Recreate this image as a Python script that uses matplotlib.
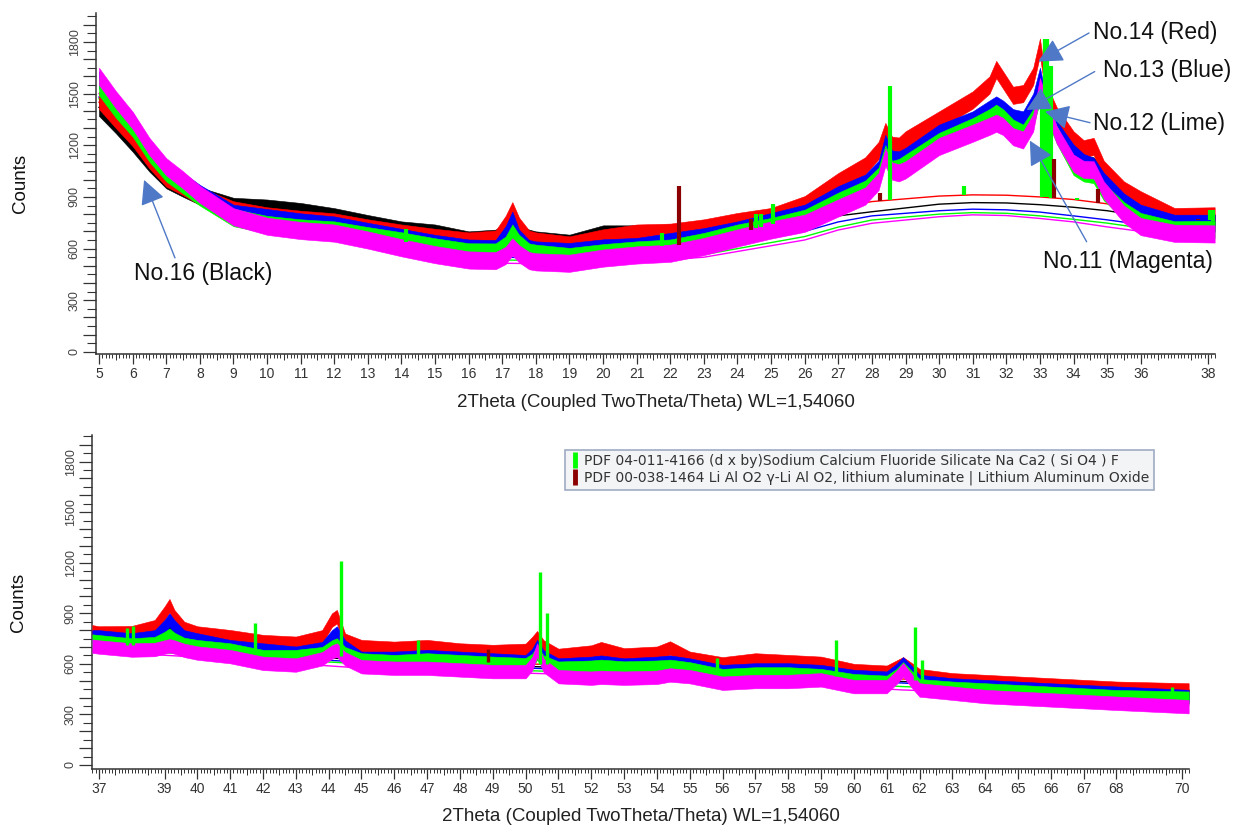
import numpy as np
import matplotlib
matplotlib.use('Agg')
import matplotlib.pyplot as plt
from matplotlib.ticker import MultipleLocator, FuncFormatter
from matplotlib.lines import Line2D

plt.rcParams['font.family'] = ['Liberation Sans', 'DejaVu Sans']

# scan order: drawn first -> last
samples = ['No.16 (Black)', 'No.14 (Red)', 'No.13 (Blue)', 'No.12 (Lime)', 'No.11 (Magenta)']
sample_colors = ['#000000', '#ff0000', '#0000ff', '#00ff00', '#ff00ff']

# ---- 2theta 5..38 ----
top_x = [5, 5.5, 6, 6.5, 7, 7.5, 8, 9, 10, 11, 12, 13, 14, 15, 16, 16.8, 17.1, 17.3, 17.5,
         17.8, 18, 19, 20, 21, 22, 23, 24, 25, 26, 27, 27.8, 28.2, 28.4, 28.6, 28.8, 29, 30,
         31, 31.5, 31.7, 31.9, 32.2, 32.5, 32.8, 33.0, 33.2, 33.5, 34, 34.3, 34.6, 34.9, 35.5,
         36, 37, 38.2]
top_black = [1420, 1320, 1213, 1097, 1000, 951, 905, 845, 835, 815, 785, 745, 708, 690, 650,
             660, 700, 735, 690, 660, 650, 631, 685, 685, 690, 715, 737, 757, 795, 894, 960,
             1040, 1170, 1080, 1090, 1115, 1241, 1318, 1380, 1405, 1380, 1330, 1290, 1380,
             1521, 1420, 1300, 1135, 1090, 1080, 1010, 880, 825, 757, 750]
top_red = [1460, 1350, 1245, 1115, 1010, 960, 905, 825, 790, 770, 755, 720, 690, 665, 644,
           655, 740, 820, 730, 655, 644, 621, 662, 690, 695, 720, 757, 786, 855, 989, 1080,
           1170, 1280, 1200, 1195, 1231, 1347, 1463, 1550, 1640, 1580, 1490, 1500, 1600, 1770,
           1500, 1370, 1231, 1180, 1193, 1060, 940, 883, 786, 790]
top_blue = [1580, 1450, 1340, 1180, 1065, 990, 920, 805, 780, 755, 737, 700, 665, 630, 603,
            600, 680, 765, 660, 600, 592, 583, 604, 612, 641, 669, 708, 757, 805, 913, 980,
            1060, 1210, 1120, 1115, 1135, 1270, 1347, 1410, 1434, 1410, 1360, 1347, 1450, 1600,
            1420, 1290, 1154, 1100, 1077, 990, 870, 805, 747, 747]
top_lime = [1540, 1410, 1300, 1154, 1040, 970, 900, 780, 740, 720, 708, 675, 645, 610, 581,
            580, 620, 690, 630, 580, 573, 554, 576, 592, 603, 641, 690, 728, 776, 875, 945,
            1020, 1150, 1060, 1070, 1096, 1222, 1308, 1360, 1386, 1360, 1300, 1270, 1360, 1502,
            1400, 1260, 1077, 1040, 1030, 930, 820, 757, 709, 712]
top_magenta = [1600, 1465, 1345, 1193, 1075, 999, 915, 785, 730, 705, 690, 650, 605, 565, 534,
               530, 560, 610, 570, 530, 523, 515, 545, 563, 573, 612, 662, 708, 747, 836, 905,
               990, 1130, 1050, 1040, 1057, 1193, 1270, 1310, 1328, 1310, 1250, 1231, 1330, 1541,
               1420, 1260, 1096, 1060, 1057, 940, 800, 728, 689, 685]

# fitted backgrounds
top_bg_x = [5, 8, 11, 14, 17, 20, 23, 26, 27, 28, 30, 31, 32, 33, 34, 35, 36, 38.2]
top_bg_black = [1420, 890, 720, 630, 565, 560, 615, 740, 790, 814, 858, 867, 865, 855, 840, 820, 790, 740]
top_bg_red = [1450, 900, 730, 640, 580, 575, 640, 790, 840, 873, 905, 912, 910, 900, 885, 860, 820, 760]
top_bg_blue = [1480, 880, 710, 610, 550, 540, 585, 700, 755, 790, 820, 829, 825, 812, 790, 767, 740, 700]
top_bg_lime = [1470, 875, 700, 600, 534, 525, 565, 670, 725, 766, 800, 809, 805, 790, 770, 748, 720, 690]
top_bg_magenta = [1500, 870, 690, 590, 515, 508, 550, 650, 708, 747, 785, 796, 792, 775, 755, 726, 700, 670]

# ---- 2theta 37..70 ----
bot_x = [36.8, 37, 38, 38.7, 39.0, 39.15, 39.3, 39.6, 40, 41, 42, 43, 43.8, 44.1, 44.25, 44.5,
         45, 46, 47, 48, 49, 50, 50.2, 50.35, 50.55, 51, 52, 52.3, 53, 54, 54.4, 55, 56, 57, 58,
         59, 60, 61, 61.3, 61.5, 61.8, 62, 63, 64, 65, 66, 67, 68, 70.2]
bot_black = [755, 754, 735, 745, 790, 827, 790, 745, 732, 712, 682, 673, 690, 730, 742, 690,
             643, 633, 633, 625, 615, 605, 630, 670, 625, 593, 600, 605, 590, 600, 605, 590,
             550, 560, 560, 550, 520, 512, 550, 585, 535, 490, 470, 460, 450, 440, 432, 422, 410]
bot_red = [790, 783, 785, 820, 900, 945, 880, 810, 783, 761, 732, 722, 760, 860, 880, 740,
           702, 692, 702, 682, 673, 680, 720, 755, 700, 650, 670, 690, 653, 663, 694, 633,
           600, 623, 613, 603, 560, 550, 580, 600, 560, 530, 505, 495, 485, 475, 465, 455, 445]
bot_blue = [760, 760, 742, 760, 820, 860, 820, 760, 742, 702, 682, 663, 690, 760, 783, 700,
            633, 633, 643, 633, 623, 613, 650, 702, 640, 593, 603, 610, 593, 603, 610, 593,
            554, 564, 564, 554, 525, 515, 560, 600, 540, 495, 475, 465, 455, 445, 435, 426, 406]
bot_lime = [735, 731, 712, 720, 750, 770, 745, 715, 702, 682, 643, 643, 660, 700, 712, 660,
            623, 613, 623, 613, 603, 595, 620, 663, 610, 574, 580, 585, 575, 580, 585, 570,
            530, 540, 540, 530, 500, 490, 530, 570, 510, 470, 455, 445, 435, 425, 415, 405, 396]
bot_magenta = [705, 700, 682, 685, 700, 707, 700, 680, 664, 643, 603, 593, 630, 670, 682, 630,
               583, 574, 574, 564, 554, 554, 600, 682, 590, 524, 515, 520, 515, 520, 534, 524,
               485, 495, 495, 505, 465, 465, 520, 564, 490, 445, 426, 406, 396, 386, 376, 366, 346]

bot_bg_x = [36.8, 40, 45, 50, 55, 61.5, 65, 70.2]
bot_bg_black = [710, 675, 625, 585, 555, 495, 465, 415]
bot_bg_red = [725, 690, 640, 600, 570, 510, 480, 430]
bot_bg_blue = [700, 665, 610, 575, 545, 486, 455, 405]
bot_bg_lime = [690, 655, 600, 560, 530, 465, 440, 390]
bot_bg_magenta = [675, 640, 575, 545, 515, 445, 420, 340]

# noise half-width of the scans (counts)
top_noise = 50
bot_noise = 40

# reference patterns (stick positions / heights)
pdf_labels = ['PDF 04-011-4166 (d x by)Sodium Calcium Fluoride Silicate Na Ca2 ( Si O4 ) F',
              'PDF 00-038-1464 Li Al O2 \u03b3-Li Al O2, lithium aluminate | Lithium Aluminum Oxide']
pdf_colors = ['#00ff00', '#8b0000']
top_nacasf_x = [14.15, 21.75, 24.55, 24.7, 25.05, 28.55, 30.75, 33.06, 33.15, 33.21, 33.32, 34.1, 38.05, 38.15]
top_nacasf_h = [714, 690, 800, 800, 860, 1545, 964, 1500, 1815, 1815, 1660, 893, 825, 825]
top_lialo2_x = [22.25, 24.4, 28.24, 33.42, 34.72, 37.7]
top_lialo2_h = [964, 770, 925, 1120, 946, 766]
bot_nacasf_x = [37.85, 38.05, 41.77, 44.38, 46.72, 50.45, 50.64, 55.83, 59.46, 61.87, 62.07, 69.7]
bot_nacasf_h = [811, 825, 845, 1211, 740, 1147, 904, 635, 742, 817, 623, 465]
bot_lialo2_x = [48.85]
bot_lialo2_h = [690]

top_panel = dict(x=top_x, scans=[top_black, top_red, top_blue, top_lime, top_magenta],
                 bg_x=top_bg_x, bgs=[top_bg_black, top_bg_red, top_bg_blue, top_bg_lime, top_bg_magenta],
                 noise=top_noise, sticks=[(top_nacasf_x, top_nacasf_h), (top_lialo2_x, top_lialo2_h)])
bot_panel = dict(x=bot_x, scans=[bot_black, bot_red, bot_blue, bot_lime, bot_magenta],
                 bg_x=bot_bg_x, bgs=[bot_bg_black, bot_bg_red, bot_bg_blue, bot_bg_lime, bot_bg_magenta],
                 noise=bot_noise, sticks=[(bot_nacasf_x, bot_nacasf_h), (bot_lialo2_x, bot_lialo2_h)])

AX_COL = '#333333'
XLABEL = '2Theta (Coupled TwoTheta/Theta) WL=1,54060'

fig = plt.figure(figsize=(12.45, 8.3), dpi=100)
ax_top = fig.add_axes([96 / 1245, 1 - 354 / 830, 1119 / 1245, 341 / 830])
ax_bot = fig.add_axes([92 / 1245, 1 - 769 / 830, 1097 / 1245, 334 / 830])


def draw_panel(ax, p, stick_lw):
    x = np.array(p['x'], dtype=float)
    for i, (scan, bg, col) in enumerate(zip(p['scans'], p['bgs'], sample_colors)):
        ax.plot(p['bg_x'], bg, color=col, lw=1.0, zorder=1)
        y = np.array(scan, dtype=float)
        ax.fill_between(x, y - p['noise'], y + p['noise'], color=col, lw=0.4,
                        edgecolor=col, zorder=2 + i)
    # sticks stand on the red scan's background
    base_bg = p['bgs'][1]
    for (sx, sh), col in zip(p['sticks'], pdf_colors):
        base = np.interp(sx, p['bg_x'], base_bg)
        ax.vlines(sx, base, sh, colors=col, lw=stick_lw, zorder=10)


def style_axes(ax, x0, x1, y0, y1, xticks, xlabels):
    ax.set_xlim(x0, x1)
    ax.set_ylim(y0, y1)
    for s in ['top', 'right']:
        ax.spines[s].set_visible(False)
    for s in ['left', 'bottom']:
        ax.spines[s].set_color(AX_COL)
        ax.spines[s].set_linewidth(1.1)
    ax.set_xticks(xticks)
    ax.set_xticklabels(xlabels)
    ax.xaxis.set_minor_locator(MultipleLocator(0.1))
    ax.tick_params(axis='x', which='major', length=7.2, width=0.9, color=AX_COL,
                   labelsize=10, labelcolor=AX_COL, pad=2)
    ax.tick_params(axis='x', which='minor', length=2.9, width=0.7, color=AX_COL)
    half = ax.secondary_xaxis('bottom')
    half.set_xticks(np.arange(np.ceil(x0) - 0.5, x1, 1.0))
    half.tick_params(length=4.3, width=0.7, color=AX_COL, labelbottom=False)
    half.spines['bottom'].set_visible(False)

    ax.yaxis.set_major_locator(MultipleLocator(100))
    ax.yaxis.set_major_formatter(FuncFormatter(
        lambda v, pos: f'{int(round(v))}' if 0 <= v <= 1800 and round(v) % 300 == 0 else ''))
    ax.yaxis.set_minor_locator(MultipleLocator(50))
    ax.tick_params(axis='y', which='major', length=9.4, width=0.9, color=AX_COL,
                   labelsize=9, labelcolor='#444444', labelrotation=90, pad=1.5)
    ax.tick_params(axis='y', which='minor', length=6.5, width=0.8, color=AX_COL)
    for lab in ax.get_yticklabels():
        lab.set_va('center')
    ax.set_xlabel(XLABEL, fontsize=13.5, color='#222222')
    ax.xaxis.set_label_coords(0.5, -0.118)
    ax.set_ylabel('Counts', fontsize=13.5, color='#111111')


draw_panel(ax_top, top_panel, 3.0)
draw_panel(ax_bot, bot_panel, 2.4)

top_ticks = list(range(5, 37)) + [38]
bot_ticks = [37] + list(range(39, 69)) + [70]
style_axes(ax_top, 4.91, 38.21, -12, 1968, top_ticks, [str(t) for t in top_ticks])
style_axes(ax_bot, 36.79, 70.21, -24, 1958, bot_ticks, [str(t) for t in bot_ticks])
ax_top.yaxis.set_label_coords(-0.060, 0.5)
ax_bot.yaxis.set_label_coords(-0.059, 0.5)

# sample call-outs
arrow_kw = dict(arrowstyle='-|>,head_length=0.75,head_width=0.38', color='#4f79c6',
                lw=1.0, mutation_scale=20, shrinkA=0, shrinkB=0)
callouts = [
    ('No.16 (Black)', (6.34, 999), (7.26, 546), (6.04, 453)),
    ('No.14 (Red)', (32.95, 1686), (34.46, 1852), (34.57, 1852)),
    ('No.13 (Blue)', (32.6, 1405), (34.63, 1628), (34.87, 1632)),
    ('No.12 (Lime)', (33.15, 1395), (34.49, 1331), (34.57, 1324)),
    ('No.11 (Magenta)', (32.7, 1227), (34.39, 640), (33.09, 523)),
]
for name, tip, tail, txt in callouts:
    ax_top.annotate('', xy=tip, xytext=tail, arrowprops=arrow_kw, zorder=20)
    ax_top.text(txt[0], txt[1], name, fontsize=16.5, color='#111111',
                ha='left', va='center', zorder=21)

handles = [Line2D([0], [0], color=c, marker='|', linestyle='None', markersize=11,
                  markeredgewidth=3.5) for c in pdf_colors]
leg = ax_bot.legend(handles, pdf_labels, loc='upper left', bbox_to_anchor=(0.431, 0.955),
                    borderaxespad=0, frameon=True, fancybox=False,
                    prop={'family': 'DejaVu Sans', 'size': 10},
                    edgecolor='#9eabc4', facecolor='#f3f4f6', framealpha=1,
                    handlelength=0.8, handletextpad=0.3, borderpad=0.3, labelspacing=0.2)
leg.get_frame().set_linewidth(1.2)
for t in leg.get_texts():
    t.set_color('#333333')

fig.savefig('out.png', dpi=100, facecolor='white')
